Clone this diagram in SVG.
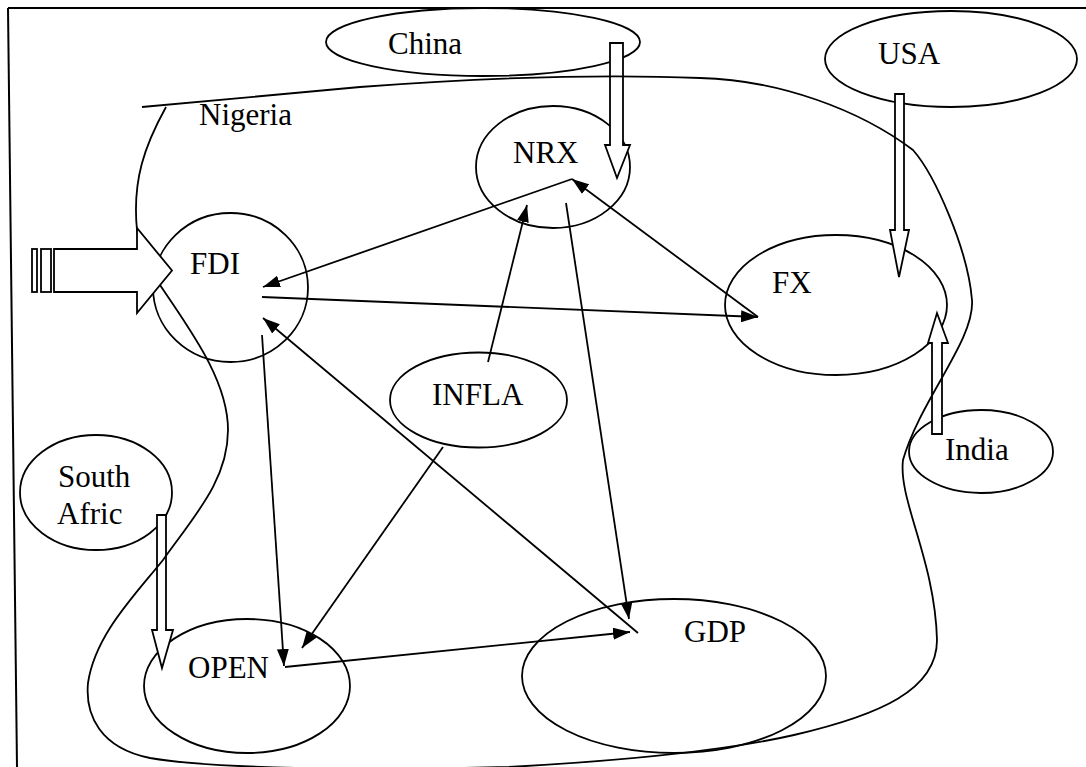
<svg xmlns="http://www.w3.org/2000/svg" width="1086" height="767" viewBox="0 0 1086 767">
<style>
.n{fill:none;stroke:#000;stroke-width:1.8}
.t{font-family:"Liberation Serif","Times New Roman",serif;font-size:31px;fill:#000}
.c{fill:none;stroke:#000;stroke-width:1.8;marker-end:url(#ah)}
.b{fill:#fff;stroke:#000;stroke-width:1.8;stroke-linejoin:miter}
.loop{fill:none;stroke:#000;stroke-width:1.8}
</style>
<defs>
<marker id="ah" viewBox="0 0 17 12" refX="17" refY="6" markerWidth="17" markerHeight="12" markerUnits="userSpaceOnUse" orient="auto">
<path d="M0,0 L17,6 L0,12 Z" fill="#000"/>
</marker>
<linearGradient id="fade" x1="0" x2="1" y1="0" y2="0">
<stop offset="0" stop-color="#000" stop-opacity="0"/>
<stop offset="0.4" stop-color="#000" stop-opacity="0.8"/>
<stop offset="1" stop-color="#000"/>
</linearGradient>
</defs>
<rect width="1086" height="767" fill="#fff"/>
<g id="frame">
<line x1="8" y1="8" x2="1086" y2="8" stroke="#000" stroke-width="2"/>
<line x1="8" y1="8" x2="17" y2="767" stroke="#000" stroke-width="2"/>
<line x1="820" y1="766" x2="1086" y2="766" stroke="url(#fade)" stroke-width="2"/>
</g>
<g id="china"><ellipse class="n" cx="483" cy="42" rx="157" ry="34"/><text class="t" x="388" y="54">China</text></g>
<g id="usa"><ellipse class="n" cx="951" cy="59" rx="126" ry="48"/><text class="t" x="878" y="64">USA</text></g>
<g id="nrx"><ellipse class="n" cx="553" cy="167" rx="77" ry="61"/><text class="t" x="513" y="163">NRX</text></g>
<g id="fdi"><ellipse class="n" cx="230.5" cy="287.5" rx="77.5" ry="74.5"/><text class="t" x="190" y="274">FDI</text></g>
<g id="fx"><ellipse class="n" cx="836" cy="305" rx="111" ry="70"/><text class="t" x="772" y="293">FX</text></g>
<g id="infla"><ellipse class="n" cx="478.5" cy="400" rx="88.5" ry="47.5"/><text class="t" x="432" y="405">INFLA</text></g>
<g id="india"><ellipse class="n" cx="981" cy="451.5" rx="72" ry="41.5"/><text class="t" x="945" y="460">India</text></g>
<g id="southafric"><ellipse class="n" cx="96" cy="492.5" rx="76" ry="57.5"/><text class="t" x="58" y="487">South</text><text class="t" x="57" y="524">Afric</text></g>
<g id="open"><ellipse class="n" cx="247" cy="686" rx="103" ry="67"/><text class="t" x="188" y="678">OPEN</text></g>
<g id="gdp"><ellipse class="n" cx="674" cy="676" rx="152" ry="77"/><text class="t" x="684" y="642">GDP</text></g>
<g id="block-arrows">
<path class="b" d="M610,43 L623,43 L623,145 L630,145 L617,178 L605,145 L610,145 Z"/>
<path class="b" d="M895,94 L904,94 L904,230 L909,230 L899,277 L890,230 L895,230 Z"/>
<path class="b" d="M932,434 L942,434 L942,343 L948,343 L937,313 L928,343 L932,343 Z"/>
<path class="b" d="M157,515 L166,515 L166,630 L173,630 L162,668 L152,630 L157,630 Z"/>
</g>
<g id="nigeria">
<path class="loop" d="M142,107 L360,87 Q560,72 700,78 C780,80 860,110 913,150 C935,175 968,250 972,300 C975,340 920,400 903,460 C898,500 935,560 937,640 C937,690 880,715 794,735 C720,752 600,762 509,767 C380,770 220,770 150,758 C100,748 85,715 88,683 C95,635 135,595 163,560 C195,515 228,480 228,430 C228,380 190,330 160,285 C150,268 140,250 137,230 C132,180 145,145 166,107"/>
<text class="t" x="199" y="125">Nigeria</text>
</g>
<g id="fdi-arrow">
<rect class="b" x="32" y="249" width="5" height="43"/>
<rect class="b" x="41" y="249" width="10" height="43"/>
<path class="b" d="M54,249 L137,249 L137,228 L172,270.5 L137,313 L137,292 L54,292 Z"/>
</g>
<g id="connectors">
<line class="c" x1="572" y1="179" x2="263" y2="287"/>
<line class="c" x1="262" y1="297" x2="758" y2="317"/>
<line class="c" x1="758" y1="317" x2="572" y2="179"/>
<line class="c" x1="488" y1="362" x2="527" y2="205"/>
<line class="c" x1="566" y1="203" x2="629" y2="619"/>
<line class="c" x1="638" y1="633" x2="263" y2="318"/>
<line class="c" x1="262" y1="335" x2="284" y2="666"/>
<line class="c" x1="443" y1="447" x2="302" y2="648"/>
<line class="c" x1="285" y1="667" x2="630" y2="632"/>
</g>
</svg>
